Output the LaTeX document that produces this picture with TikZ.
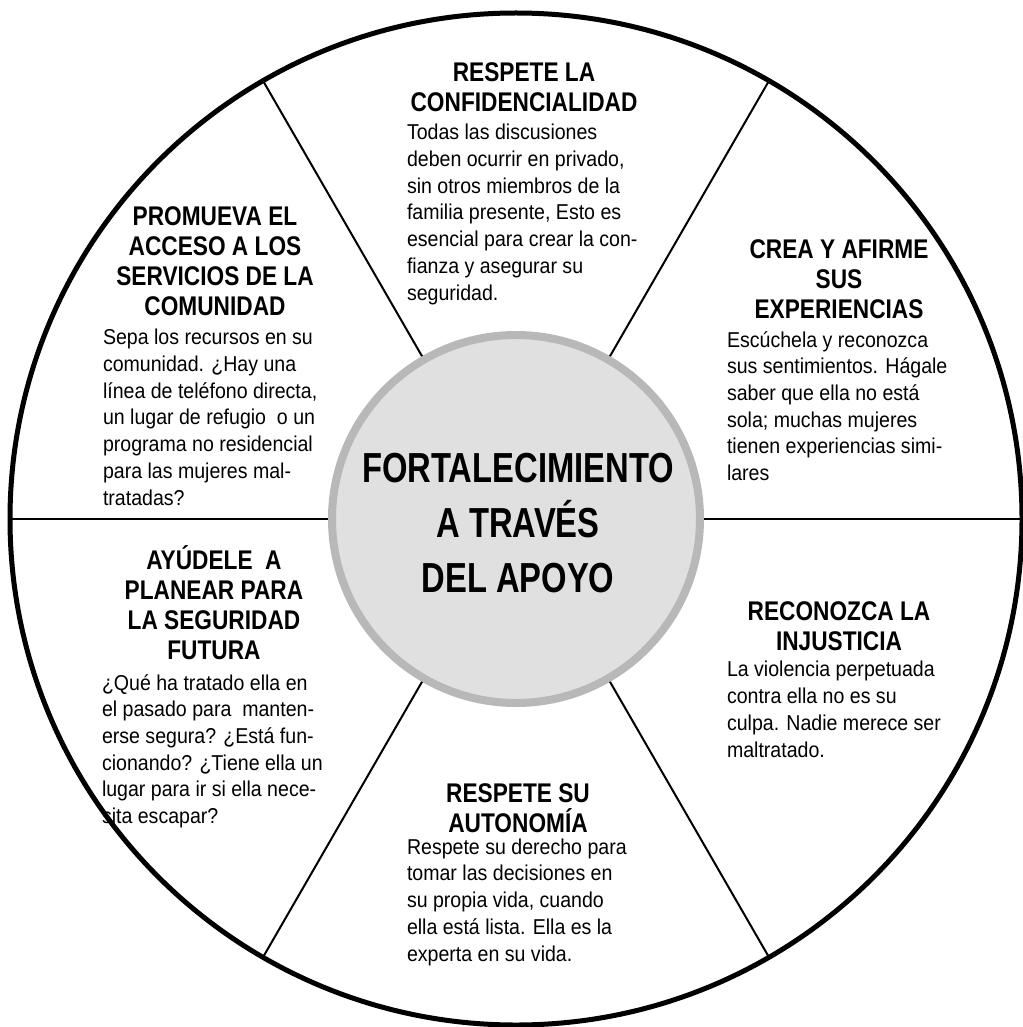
\documentclass[tikz,border=0pt]{standalone}
\usepackage{fontspec}
\setmainfont{Liberation Sans}
\newfontfamily\bodyf[FakeStretch=0.91]{Liberation Sans}
\newfontfamily\headf[FakeStretch=0.84]{Liberation Sans}
\newfontfamily\titlef[FakeStretch=0.78]{Liberation Sans}
\definecolor{ringgray}{HTML}{B8B8B8}
\definecolor{hubfill}{HTML}{E0E0E0}
\tikzset{
  bodytext/.style={anchor=base west, align=left, inner sep=0pt, outer sep=0pt,
    font=\bodyf\fontsize{21.5}{26.7}\selectfont},
  headtext/.style={anchor=base, align=center, inner sep=0pt, outer sep=0pt,
    font=\headf\bfseries\fontsize{27}{30}\selectfont},
  titletext/.style={anchor=base, align=center, inner sep=0pt, outer sep=0pt,
    font=\titlef\bfseries\fontsize{42}{55}\selectfont},
  rimstyle/.style={circle, draw=black, line width=5pt, minimum size=1012pt, inner sep=0pt, outer sep=0pt},
  hubstyle/.style={circle, draw=ringgray, fill=hubfill, line width=8pt, minimum size=368pt, inner sep=0pt, outer sep=4pt},
  spoke/.style={draw=black, line width=2pt},
  hspoke/.style={draw=black, line width=2.6pt}
}
\begin{document}
\begin{tikzpicture}[x=1pt,y=1pt]
\useasboundingbox (0,0) rectangle (1022,-1027);
\fill[white] (0,0) rectangle (1022,-1027);
% text blocks (anchors are at the baseline of the last line)
\node[headtext] (hT) at (524,-112) {RESPETE LA\\CONFIDENCIALIDAD};
\node[bodytext] (bT) at (407,-300) {Todas las discusiones\\deben ocurrir en privado,\\sin otros miembros de la\\familia presente, Esto es\\esencial para crear la con-\\fianza y asegurar su\\seguridad.};
\node[headtext] (hTR) at (839,-318) {CREA Y AFIRME\\SUS\\EXPERIENCIAS};
\node[bodytext] (bTR) at (727,-480.5) {Escúchela y reconozca\\sus sentimientos. Hágale\\saber que ella no está\\sola; muchas mujeres\\tienen experiencias simi-\\lares};
\node[headtext] (hTL) at (215,-315) {PROMUEVA EL\\ACCESO A LOS\\SERVICIOS DE LA\\COMUNIDAD};
\node[bodytext] (bTL) at (103,-505) {Sepa los recursos en su\\comunidad. ¿Hay una\\línea de teléfono directa,\\un lugar de refugio\ \ o un\\programa no residencial\\para las mujeres mal-\\tratadas?};
\node[headtext] (hBL) at (214,-659) {AYÚDELE\ \ A\\PLANEAR PARA\\LA SEGURIDAD\\FUTURA};
\node[bodytext] (bBL) at (102,-823.5) {¿Qué ha tratado ella en\\el pasado para\ \ manten-\\erse segura? ¿Está fun-\\cionando? ¿Tiene ella un\\lugar para ir si ella nece-\\sita escapar?};
\node[headtext] (hBR) at (839,-650) {RECONOZCA LA\\INJUSTICIA};
\node[bodytext] (bBR) at (727,-757) {La violencia perpetuada\\contra ella no es su\\culpa. Nadie merece ser\\maltratado.};
\node[headtext] (hB) at (518,-832) {RESPETE SU\\AUTONOMÍA};
\node[bodytext] (bB) at (407,-961) {Respete su derecho para\\tomar las decisiones en\\su propia vida, cuando\\ella está lista. Ella es la\\experta en su vida.};
% wheel
\node[rimstyle] (rim) at (516,-519) {};
\node[hubstyle] (hub) at (516,-519) {};
\draw[hspoke] (hub.0) -- (rim.0);
\draw[hspoke] (hub.180) -- (rim.180);
\foreach \a in {60,120,240,300}{
  \draw[spoke] (hub.\a) -- (rim.\a);
}
\node[titletext] (title) at (518,-592) {FORTALECIMIENTO\\A TRAVÉS\\DEL APOYO};
\end{tikzpicture}
\end{document}
